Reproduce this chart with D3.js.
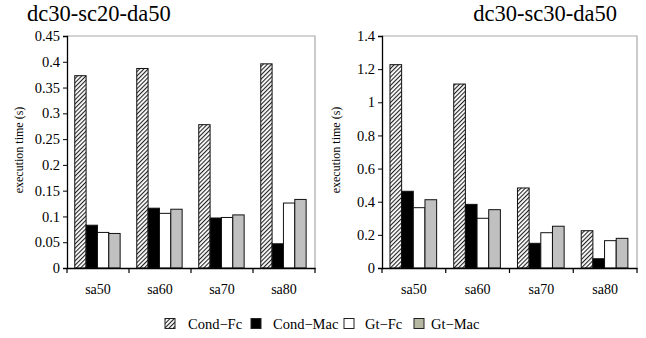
<!DOCTYPE html>
<html><head><meta charset="utf-8">
<script src="https://cdn.jsdelivr.net/npm/d3@7"></script>
</head><body style="margin:0;background:#fff"><svg id="c" width="646" height="338" style="display:block;font-family:'Liberation Serif'"></svg>
<script>
const categories = ["sa50","sa60","sa70","sa80"];
const seriesNames = ["Cond\u2212Fc","Cond\u2212Mac","Gt\u2212Fc","Gt\u2212Mac"];
const leftTitle = "dc30-sc20-da50";
const rightTitle = "dc30-sc30-da50";
const leftCondFc  = [0.373, 0.387, 0.278, 0.396];
const leftCondMac = [0.083, 0.116, 0.097, 0.047];
const leftGtFc    = [0.069, 0.106, 0.098, 0.126];
const leftGtMac   = [0.067, 0.114, 0.103, 0.133];
const rightCondFc  = [1.227, 1.110, 0.483, 0.225];
const rightCondMac = [0.463, 0.384, 0.149, 0.056];
const rightGtFc    = [0.364, 0.300, 0.213, 0.165];
const rightGtMac   = [0.412, 0.352, 0.252, 0.179];
const leftTicks = [0,0.05,0.1,0.15,0.2,0.25,0.3,0.35,0.4,0.45];
const rightTicks = [0,0.2,0.4,0.6,0.8,1,1.2,1.4];

const svg = d3.select("#c");
const defs = svg.append("defs");
const pat = defs.append("pattern").attr("id","hatch").attr("patternUnits","userSpaceOnUse")
  .attr("width",3).attr("height",3).attr("patternTransform","rotate(45)");
pat.append("rect").attr("width",3).attr("height",3).attr("fill","#fff");
pat.append("line").attr("x1",0.5).attr("y1",0).attr("x2",0.5).attr("y2",3).attr("stroke","#222").attr("stroke-width",1.2);

const fills = ["url(#hatch)","#000","#fff","#c0c0c0"];

function panel(opt){
  const {x0,x1,y0,y1,max,ticks,series,title,titleX,titleAnchor,labelX,fmt} = opt;
  const g = svg.append("g");
  const x = d3.scaleBand().domain(categories).range([x0,x1]);
  const y = d3.scaleLinear().domain([0,max]).range([y1,y0]);
  g.append("path").attr("d",`M${x0},${y0}H${x1}V${y1}`).attr("fill","none").attr("stroke","#a8a8a8").attr("stroke-width",1.2);
  const bw = x.bandwidth()*0.183;
  const off = x.bandwidth()*0.125;
  series.forEach((vals,si)=>{
    g.selectAll(null).data(vals).join("rect")
      .attr("x",(d,i)=>x(categories[i])+off+si*bw)
      .attr("y",d=>y(d)).attr("width",bw).attr("height",d=>y1-y(d))
      .attr("fill",fills[si]).attr("stroke","#111").attr("stroke-width",1);
  });
  const ya = d3.axisLeft(y).tickValues(ticks).tickSize(4).tickFormat(fmt);
  const ga = g.append("g").attr("transform",`translate(${x0},0)`).call(ya).attr("font-size",14.5).attr("font-family",null);
  ga.select(".domain").attr("stroke","#000").attr("stroke-width",1.3);
  ga.selectAll("text").attr("x",-7).attr("fill","#000");
  const xa = d3.axisBottom(x).tickSize(0).tickPadding(16);
  const gx = g.append("g").attr("transform",`translate(0,${y1})`).call(xa).attr("font-size",14).attr("font-family",null);
  gx.select(".domain").attr("stroke","#000").attr("stroke-width",1.3);
  gx.selectAll("text").attr("fill","#000");
  const bounds = categories.map(c=>x(c)).concat([x1]);
  g.selectAll(null).data(bounds).join("line").attr("x1",d=>d).attr("x2",d=>d)
    .attr("y1",y1).attr("y2",y1+5).attr("stroke","#000").attr("stroke-width",1.2);
  g.append("text").attr("x",titleX).attr("y",21).attr("text-anchor",titleAnchor).attr("font-size",22.5).text(title);
  g.append("text").attr("transform",`translate(${labelX},${(y0+y1)/2-2}) rotate(-90)`)
    .attr("text-anchor","middle").attr("font-size",12).text("execution time (s)");
}

panel({x0:67,x1:315,y0:36,y1:268,max:0.45,ticks:leftTicks,
  series:[leftCondFc,leftCondMac,leftGtFc,leftGtMac],title:leftTitle,titleX:27,titleAnchor:"start",labelX:23,
  fmt:d=>String(+d.toFixed(2))});
panel({x0:382,x1:637,y0:36,y1:268,max:1.4,ticks:rightTicks,
  series:[rightCondFc,rightCondMac,rightGtFc,rightGtMac],title:rightTitle,titleX:617,titleAnchor:"end",labelX:340,
  fmt:d=>String(+d.toFixed(1))});

const legendX = [165,251,344,414];
const legendTextX = [188,273,365,431];
const legendFills = ["url(#hatch)","#000","#fff","#b6b8a2"];
const lg = svg.append("g");
seriesNames.forEach((n,i)=>{
  lg.append("rect").attr("x",legendX[i]).attr("y",318.5).attr("width",10).attr("height",10)
    .attr("fill",legendFills[i]).attr("stroke","#222").attr("stroke-width",1);
  lg.append("text").attr("x",legendTextX[i]).attr("y",329).attr("font-size",14.5).text(n);
});
svg.selectAll("text").style("font-family","Liberation Serif");
</script></body></html>
